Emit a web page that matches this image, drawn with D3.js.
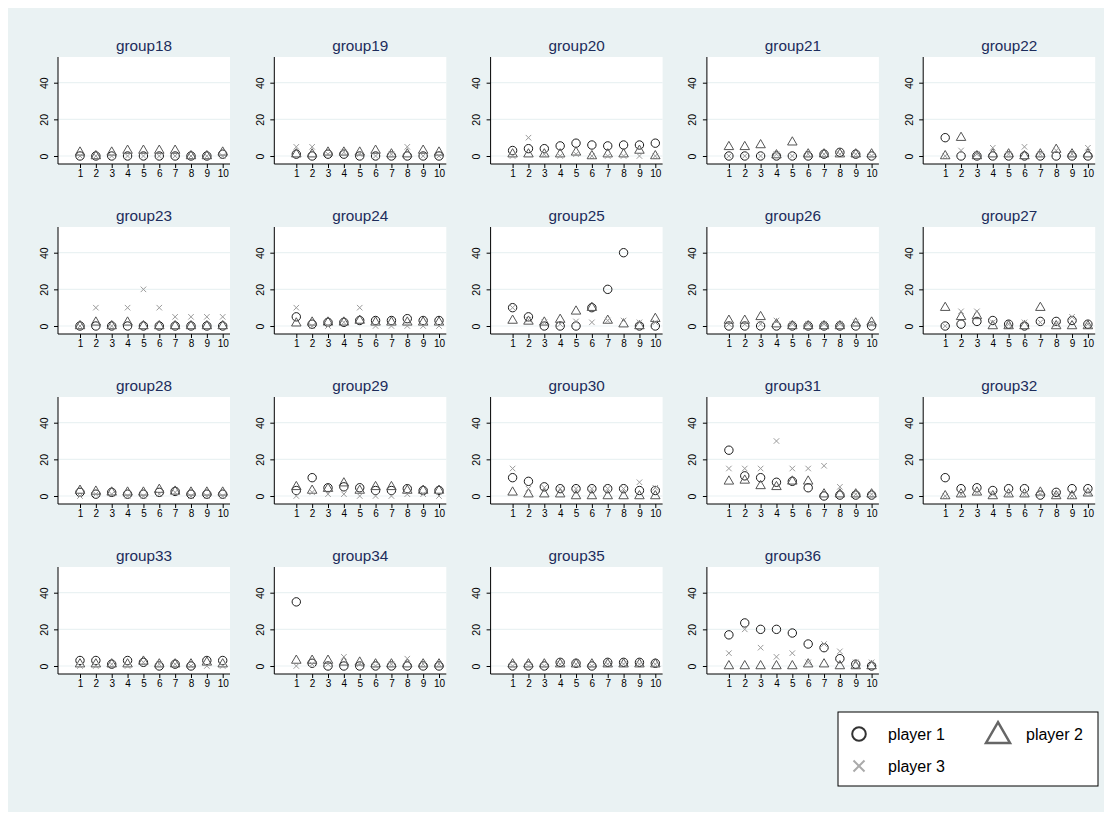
<!DOCTYPE html>
<html>
<head>
<meta charset="utf-8">
<script src="https://cdn.jsdelivr.net/npm/d3@7"></script>
<style>
  body { margin: 0; background: #ffffff; }
  svg { display: block; font-family: "Liberation Sans", Arial, sans-serif; }
</style>
</head>
<body>
<svg id="chart" width="1112" height="819"></svg>
<script>
// group names, one panel each
const groups = ["group18","group19","group20","group21","group22","group23","group24","group25","group26","group27",
                "group28","group29","group30","group31","group32","group33","group34","group35","group36"];
const periods = [1,2,3,4,5,6,7,8,9,10];
const yTicks = [0, 20, 40];

// values, per group (periods 1..10)
const player1 = [
  [0,0,0,0,0,0,0,0,0,1],
  [1,0,1,1,0,0,0,0,0,0],
  [3,4,4,5.5,7,6,5.5,6,6,7],
  [0,0,0,0,0,0,1,2,1,0],
  [10,0,0,0,0,0,0,0,0,0],
  [0,0,0,0,0,0,0,0,0,0],
  [5,1,2,2,3,3,3,4,3,3],
  [10,5,0,0,0,10,20,40,0,0],
  [0,0,0,0,0,0,0,0,0,0],
  [0,1,2.5,3,1,0,2.5,2.5,3,1],
  [2,1,2,1,1,2,2.5,1,1,1],
  [3,10,4.5,5,4.5,3,3,4,3,3],
  [10,8,5,4,4,4,4,4,3,3],
  [25,11,10,7.5,8,4.5,0,0.5,0.5,0.5],
  [10,4,4.5,3,4,4,0.5,2,4,4],
  [3,3,1,3,2,0,1,0,3,3],
  [35,1.5,0,0,0,0,0,0,0,0],
  [0,0,0,2,1.5,0,2,2,2,1.5],
  [17,23.5,20,20,18,12,10,4,1,0]
];
const player2 = [
  [2,0,2,3,3,3,3,0,0,2],
  [1,1,2,2,2,3,1,1,3,2],
  [1,1,1,1,2,0,1,1,3,0],
  [5,5,6,0.5,7.5,1,1,1,1,1],
  [0,10,0,1,1,0,1,3.5,1,1],
  [0,2,0,2,0,0,0,0,0,0],
  [1.5,2,2,2,3,2,2,2,2,2],
  [3,2.5,2,3.5,8,10,3,1,0,4],
  [3,3,5,1,0,0,0,0,1.5,2],
  [10,5,5.5,0,0,0,10,0,0,0],
  [3,2.5,2,2,2,3.5,2.5,2,2,2],
  [5,3,4,7,3,5,5,3,3,3],
  [2,1,1,1,0,0,0,0,0,0],
  [8,8.5,5.5,5,8,8,1,1,1,1],
  [0,1,2,0,1,1,2,0,0,1.5],
  [1,1,1,1,2.5,1,1,1,2,1],
  [3,3,3,2,2,1,1,1,1,1],
  [1,1,1,1,1,1,1,1,1,1],
  [0,0,0,0,0,1,1,0,0,0]
];
const player3 = [
  [0,0,0,0,0,0,0,0,0,0],
  [5,5,1,2,1,0,1,5,0,0],
  [0,10,1,0,1,0,0,0,0,0],
  [0,0,0,1,0,1,1,1,1,0],
  [0,3,1,4.5,1,5,1,3,1,4.5],
  [0,10,0,10,20,10,5,5,5,5],
  [10,0,0,2,10,0,0,0,0,0],
  [10,3.5,2,1,2.5,2,3,3,2,2],
  [1,1,1,3,1,1,1,1,2,1],
  [0,8,8,2,1,2,2,1,5,1],
  [0,1,1,0,0,1,2,0,0,0],
  [0,2,1,1,0,0,0,1,1,0],
  [15,4,4.5,4,4,4,4,4,7.5,4.5],
  [15,15,15,30,15,15,16.5,5,1,1],
  [0,1,2,1,1,1,1,1,0,2],
  [0,0,1,0,2,1,1,0,0,0],
  [0,1,1,5,1,0,1,4,1,1],
  [0,0,0,1,1,0,1,1,1,1],
  [7,20,10,5,7,2,12,8,2,2]
];
const legendLabels = ["player 1", "player 2", "player 3"];

const svg = d3.select("#chart");
const bg = "#eaf2f3";
const titleColor = "#1c2c5b";
const c1 = "#1a1a1a", c2 = "#555555", c3 = "#9a9a9a";
const font = "Liberation Sans, Arial, sans-serif";

svg.append("rect").attr("x", 8).attr("y", 8).attr("width", 1096).attr("height", 804).attr("fill", bg);

const plotW = 172, plotH = 107;

function triPath(cx, cy, w) {
  let h = w * 0.866;
  return "M" + cx + "," + (cy - h * 2 / 3) + "L" + (cx + w / 2) + "," + (cy + h / 3) + "L" + (cx - w / 2) + "," + (cy + h / 3) + "Z";
}
function xPath(cx, cy, s) {
  let r = s / 2;
  return "M" + (cx - r) + "," + (cy - r) + "L" + (cx + r) + "," + (cy + r) + "M" + (cx - r) + "," + (cy + r) + "L" + (cx + r) + "," + (cy - r);
}

groups.forEach((g, i) => {
  let col = i % 5, row = Math.floor(i / 5);
  let left = 58 + col * 216.3;
  let top = 57 + row * 170;

  let x = d3.scaleLinear().domain([1, 10]).range([left + 22, left + 164.7]);
  let y = d3.scaleLinear().domain([0, 40]).range([top + 99, top + 25.7]);

  let panel = svg.append("g");

  panel.append("rect").attr("x", left).attr("y", top).attr("width", plotW).attr("height", plotH).attr("fill", "#ffffff");

  // gridlines
  panel.selectAll(".grid").data(yTicks).enter().append("line")
    .attr("x1", left).attr("x2", left + plotW)
    .attr("y1", d => y(d)).attr("y2", d => y(d))
    .attr("stroke", bg).attr("stroke-width", 1.2);

  // title
  panel.append("text").attr("x", left + plotW / 2).attr("y", top - 6)
    .attr("text-anchor", "middle").attr("font-size", 15.3).attr("font-family", font)
    .attr("fill", titleColor).text(g);

  // y axis
  let yAxis = panel.append("g").attr("transform", "translate(" + left + ",0)")
    .call(d3.axisLeft(y).tickValues(yTicks).tickSize(4).tickPadding(4));
  yAxis.select(".domain").attr("d", "M0," + top + "V" + (top + plotH)).attr("stroke", "#000");
  yAxis.selectAll(".tick text")
    .attr("font-size", 10.5).attr("font-family", font).attr("fill", "#000")
    .attr("transform", "rotate(-90)").attr("text-anchor", "middle")
    .attr("x", 0).attr("y", -10.5).attr("dy", 0);
  yAxis.selectAll(".tick line").attr("stroke", "#000");

  // x axis
  let xAxis = panel.append("g").attr("transform", "translate(0," + (top + plotH) + ")")
    .call(d3.axisBottom(x).tickValues(periods).tickSize(4).tickPadding(2));
  xAxis.select(".domain").attr("d", "M" + left + ",0H" + (left + plotW)).attr("stroke", "#000");
  xAxis.selectAll(".tick text").attr("font-size", 10).attr("font-family", font).attr("fill", "#000");
  xAxis.selectAll(".tick line").attr("stroke", "#000");

  // markers
  panel.selectAll(".p1").data(player1[i]).enter().append("circle")
    .attr("cx", (d, k) => x(periods[k])).attr("cy", d => y(d)).attr("r", 4.2)
    .attr("fill", "none").attr("stroke", c1).attr("stroke-width", 1);
  panel.selectAll(".p2").data(player2[i]).enter().append("path")
    .attr("d", (d, k) => triPath(x(periods[k]), y(d), 9.5))
    .attr("fill", "none").attr("stroke", c2).attr("stroke-width", 1);
  panel.selectAll(".p3").data(player3[i]).enter().append("path")
    .attr("d", (d, k) => xPath(x(periods[k]), y(d), 5.5))
    .attr("fill", "none").attr("stroke", c3).attr("stroke-width", 1);
});

// legend
let lg = svg.append("g");
lg.append("rect").attr("x", 838).attr("y", 712).attr("width", 260).attr("height", 74)
  .attr("fill", "#fff").attr("stroke", "#000").attr("stroke-width", 1);
lg.append("circle").attr("cx", 859).attr("cy", 734).attr("r", 6.8)
  .attr("fill", "none").attr("stroke", "#333").attr("stroke-width", 2);
lg.append("path").attr("d", triPath(998, 736, 24)).attr("fill", "none").attr("stroke", "#666").attr("stroke-width", 2.5);
lg.append("path").attr("d", xPath(859, 766, 11)).attr("fill", "none").attr("stroke", "#aaa").attr("stroke-width", 2);
let lpos = [[888, 740], [1026, 740], [888, 772]];
lg.selectAll(".lt").data(legendLabels).enter().append("text")
  .attr("x", (d, k) => lpos[k][0]).attr("y", (d, k) => lpos[k][1])
  .attr("font-size", 16).attr("font-family", font).attr("fill", "#000").text(d => d);
</script>
</body>
</html>
